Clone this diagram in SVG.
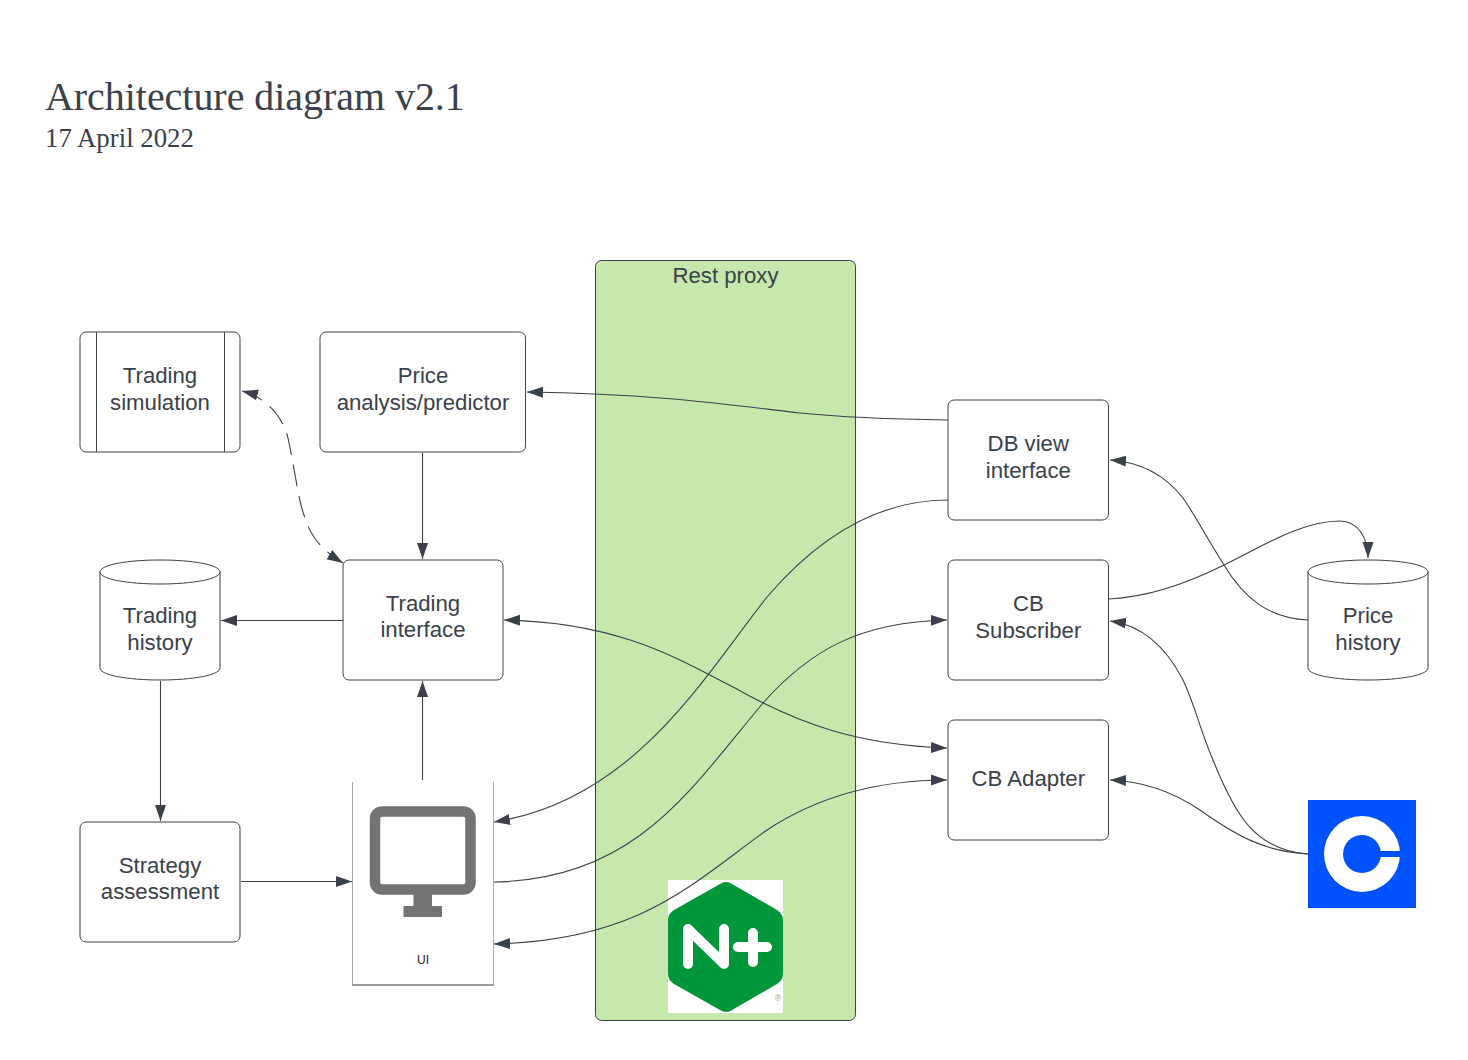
<svg xmlns="http://www.w3.org/2000/svg" width="1468" height="1060" viewBox="0 0 1468 1060">
<defs>
<marker id="arrow" markerUnits="userSpaceOnUse" markerWidth="17" markerHeight="12" refX="16" refY="6" orient="auto-start-reverse"><path d="M0 0.500L16 6L0 11.500Z" fill="#3a414a"/></marker>
</defs>
<style>
text{font-family:"Liberation Sans",Arial,sans-serif;font-size:22.2px;fill:#3a414a;text-anchor:middle}
.title{font-family:"Liberation Serif","Times New Roman",serif;text-anchor:start}
.box{fill:#fff;stroke:#3a414a;stroke-width:1}
.c{fill:none;stroke:#3a414a;stroke-width:1.100}
.c path{marker-end:url(#arrow)}
.c path.both{marker-start:url(#arrow)}
.s{fill:none;stroke:#3a414a;stroke-width:1}
</style>
<rect width="1468" height="1060" fill="#fff"/>
<g id="title">
<text class="title" x="45" y="110" style="font-size:39.900px">Architecture diagram v2.1</text>
<text class="title" x="45" y="147" style="font-size:26.800px">17 April 2022</text>
</g>
<g id="rest-proxy">
<rect x="595.500" y="260.500" width="260" height="760" rx="6" fill="#c7e8ac" stroke="#3a414a"/>
<text x="725.500" y="283">Rest proxy</text>
</g>
<g id="nginx">
<rect x="668" y="880" width="115" height="133" fill="#fff"/>
<path d="M720 884Q726 880 732 884L777 910Q783 914 783 920V974Q783 980 777 984L732 1010Q726 1014 720 1010L674 984Q668 980 668 974V920Q668 914 674 910Z" fill="#009639"/>
<path d="M688 964V929L724 964V929M738 947H767M753 933V962" fill="none" stroke="#fff" stroke-width="10" stroke-linecap="round" stroke-linejoin="round"/>
<text x="778" y="1001" style="font-size:9px;fill:#999">®</text>
</g>
<g id="trading-simulation">
<rect class="box" x="80" y="332" width="160" height="120" rx="6"/>
<path class="s" d="M96.500 332V452M224.500 332V452"/>
<text x="160" y="383">Trading</text><text x="160" y="410">simulation</text>
</g>
<g id="price-analysis">
<rect class="box" x="320" y="332" width="205.500" height="120" rx="6"/>
<text x="423" y="383">Price</text><text x="423" y="410">analysis/predictor</text>
</g>
<g id="trading-history">
<path class="box" d="M100 572V668C100 675 127 680 160 680S220 675 220 668V572C220 565 194 560 160 560S100 565 100 572C100 579 127 584 160 584S220 579 220 572"/>
<text x="160" y="623">Trading</text><text x="160" y="650">history</text>
</g>
<g id="trading-interface">
<rect class="box" x="343" y="560" width="160" height="120" rx="6"/>
<text x="423" y="611">Trading</text><text x="423" y="637">interface</text>
</g>
<g id="strategy-assessment">
<rect class="box" x="80" y="822" width="160" height="120" rx="6"/>
<text x="160" y="873">Strategy</text><text x="160" y="899">assessment</text>
</g>
<g id="ui">
<path d="M352.500 782V985H493.500V782" fill="#fff" stroke="#a6a6a6" stroke-width="1"/>
<path d="M352 985H494" stroke="#999" stroke-width="2"/>
<rect x="375" y="811.500" width="95.500" height="78" rx="7" fill="#fff" stroke="#737373" stroke-width="10.500"/>
<path d="M413.500 894H432V906H442V917H403.500V906H413.500Z" fill="#737373"/>
<text x="423" y="964" style="font-size:12px;fill:#222">UI</text>
</g>
<g id="db-view">
<rect class="box" x="948" y="400" width="160.500" height="120" rx="6"/>
<text x="1028.300" y="451">DB view</text><text x="1028.300" y="478">interface</text>
</g>
<g id="cb-subscriber">
<rect class="box" x="948" y="560" width="160.500" height="120" rx="6"/>
<text x="1028.300" y="611">CB</text><text x="1028.300" y="638">Subscriber</text>
</g>
<g id="cb-adapter">
<rect class="box" x="948" y="720" width="160.500" height="120" rx="6"/>
<text x="1028.300" y="786">CB Adapter</text>
</g>
<g id="price-history">
<path class="box" d="M1308 572V668C1308 675 1335 680 1368 680S1428 675 1428 668V572C1428 565 1402 560 1368 560S1308 565 1308 572C1308 579 1335 584 1368 584S1428 579 1428 572"/>
<text x="1368" y="623">Price</text><text x="1368" y="650">history</text>
</g>
<g id="coinbase">
<rect x="1308" y="800" width="108" height="108" fill="#0052ff"/>
<circle cx="1362" cy="854" r="38" fill="#fff"/>
<circle cx="1362" cy="854" r="19" fill="#0052ff"/>
<rect x="1378" y="851" width="23" height="6" fill="#0052ff"/>
</g>
<g id="connectors" class="c">
<path d="M948 420C880 419 840 417 800 413C730 405 660 394 527 392"/>
<path d="M422.500 453V559"/>
<path d="M343 620.500H221"/>
<path d="M160.500 681V821"/>
<path d="M241 881.500H352"/>
<path d="M422.500 780V681"/>
<path d="M948 500C880 500 820 535 767 597C705 675 635 800 494 822"/>
<path d="M494 882C635 880 690 790 763 703C810 650 860 622 947 620"/>
<path class="both" d="M494 944C640 940 690 885 767 830C820 795 880 780 947 780"/>
<path class="both" d="M504 620C620 622 680 660 735 688C800 725 860 745 947 748"/>
<path d="M1308 620C1270 618 1245 600 1224 565C1205 535 1195 515 1183 498C1165 475 1140 462 1110 460"/>
<path d="M1109 599C1150 597 1190 582 1224 565C1260 548 1300 521 1340 521C1358 521 1368 538 1368 558"/>
<path d="M1308 854C1255 850 1235 815 1213 760C1200 730 1195 705 1183 680C1165 645 1140 625 1110 621"/>
<path d="M1308 854C1265 852 1235 835 1200 810C1170 790 1140 781 1110 780"/>
<path class="both" d="M242 391C265 397 282 415 288 438C295 470 298 500 305 518C312 540 325 552 343 563" stroke-dasharray="22 10"/>
</g>
</svg>
